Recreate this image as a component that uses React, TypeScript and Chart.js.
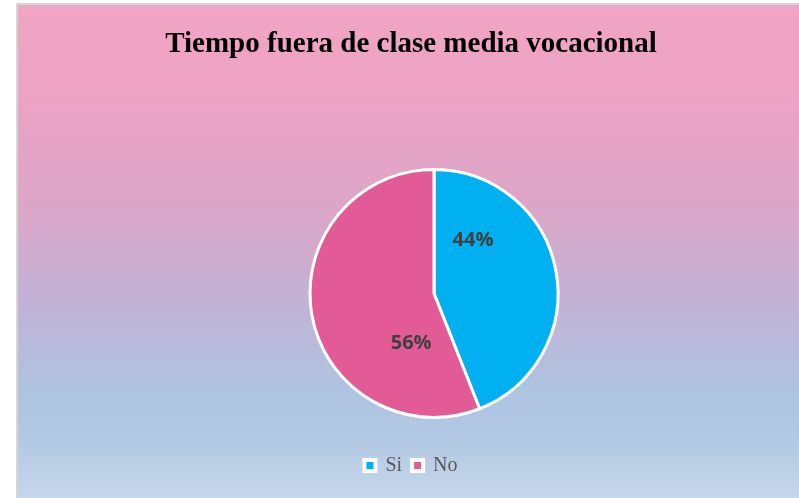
import React, { useEffect, useRef } from "react";
import { Chart, registerables } from "chart.js";

Chart.register(...registerables);

const titleText = "Tiempo fuera de clase media vocacional";
const categories = ["Si", "No"];
const values = [44, 56];
const sliceColors = ["#00B0F0", "#E35B96"];
const labelAngleFraction = [0.23, 0.23];
const labelRadiusRatio = [0.53, 0.44];

export default function App() {
  const ref = useRef<HTMLCanvasElement>(null);

  useEffect(() => {
    document.body.style.margin = "0";
    const canvas = ref.current;
    if (!canvas) return;

    const bgPlugin = {
      id: "bgPlugin",
      beforeDraw(chart: any) {
        const { ctx, width, height } = chart;
        ctx.save();
        ctx.fillStyle = "#ffffff";
        ctx.fillRect(0, 0, width, height);
        const g = ctx.createLinearGradient(0, 5, 0, height);
        g.addColorStop(0, "#F1A5C5");
        g.addColorStop(0.15, "#EFA3C4");
        g.addColorStop(0.4, "#DCA5C7");
        g.addColorStop(0.6, "#C3B2D5");
        g.addColorStop(0.78, "#AEC3E0");
        g.addColorStop(0.88, "#B2C8E3");
        g.addColorStop(1, "#C7D7EA");
        ctx.fillStyle = g;
        ctx.fillRect(18, 5, width - 18, height - 5);
        ctx.fillStyle = "#D6D6D6";
        ctx.fillRect(16, 3, 2, height - 3);
        ctx.fillRect(16, 3, width - 16, 2);
        ctx.restore();
      },
    };

    const shiftPlugin = {
      id: "shiftPlugin",
      afterLayout(chart: any) {
        chart.chartArea.left += 23;
        chart.chartArea.right += 23;
      },
    };

    const labelPlugin = {
      id: "labelPlugin",
      afterDatasetsDraw(chart: any) {
        const { ctx } = chart;
        const meta = chart.getDatasetMeta(0);
        ctx.save();
        ctx.font = "bold 20px 'Open Sans'";
        ctx.fillStyle = "#404040";
        ctx.textAlign = "center";
        ctx.textBaseline = "middle";
        meta.data.forEach((arc: any, i: number) => {
          const p = arc.getProps(["x", "y", "startAngle", "endAngle", "outerRadius"], true);
          const a = p.startAngle + labelAngleFraction[i] * (p.endAngle - p.startAngle);
          const r = p.outerRadius * labelRadiusRatio[i];
          ctx.fillText(values[i] + "%", p.x + Math.cos(a) * r, p.y + Math.sin(a) * r);
        });
        ctx.restore();
      },
    };

    const chart = new Chart(canvas, {
      type: "pie",
      data: {
        labels: categories,
        datasets: [
          {
            data: values,
            backgroundColor: sliceColors,
            borderColor: "#ffffff",
            borderWidth: 3,
          },
        ],
      },
      options: {
        responsive: false,
        animation: false,
        radius: 124,
        layout: { padding: { top: 0, left: 23, right: 0, bottom: 12.5 } },
        plugins: {
          title: {
            display: true,
            text: titleText,
            color: "#000000",
            font: { family: "'Liberation Serif'", size: 29, weight: "bold" },
            padding: { top: 27.5, bottom: 79.1 },
          },
          legend: {
            position: "bottom",
            labels: {
              boxWidth: 11,
              boxHeight: 11,
              padding: 10,
              color: "#595959",
              font: { family: "'Liberation Serif'", size: 20 },
              generateLabels() {
                return categories.map((c, i) => ({
                  text: c,
                  fillStyle: sliceColors[i],
                  strokeStyle: "#ffffff",
                  lineWidth: 4,
                  fontColor: "#595959",
                  hidden: false,
                  index: i,
                }));
              },
            },
          },
          tooltip: { enabled: false },
        },
      },
      plugins: [bgPlugin, shiftPlugin, labelPlugin],
    } as any);

    return () => chart.destroy();
  }, []);

  return (
    <div style={{ position: "relative", width: 799, height: 498 }}>
      <canvas ref={ref} width={799} height={498} style={{ display: "block" }} />
    </div>
  );
}
